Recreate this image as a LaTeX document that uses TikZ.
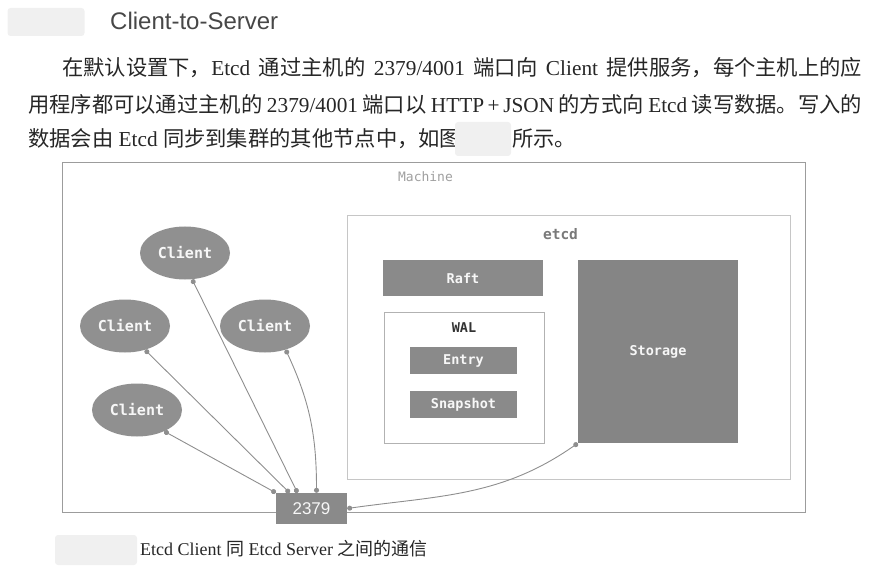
\documentclass[tikz,border=0pt]{standalone}
\usepackage{fontspec}
\setmainfont{Liberation Serif}
\newfontfamily\cjk{Noto Sans CJK SC}
\newfontfamily\codefont{DejaVu Sans Mono}
\newfontfamily\headfont{Liberation Sans}
\usetikzlibrary{arrows.meta,shapes.geometric}
\definecolor{boxgray}{HTML}{8A8A8A}
\definecolor{storegray}{HTML}{858585}
\definecolor{linkgray}{HTML}{8E8E8E}
\definecolor{framegray}{HTML}{9C9C9C}
\definecolor{textgray}{HTML}{262626}
\tikzset{
  block/.style={fill=boxgray, text=white!94!gray, inner sep=0pt,
    font=\codefont\bfseries\fontsize{13.5}{16}\selectfont},
  client/.style={ellipse, fill=boxgray!95!white, text=white!94!gray, inner sep=0pt,
    minimum width=90pt, minimum height=53pt, font=\codefont\bfseries\fontsize{15}{18}\selectfont},
  frame/.style={draw=framegray, line width=0.7pt, inner sep=0pt},
  link/.style={draw=linkgray, line width=0.9pt,
    {Circle[length=5pt,width=5pt,fill=linkgray]}-{Circle[length=5pt,width=5pt,fill=linkgray]}},
  blur/.style={fill=gray!12, draw=none, rounded corners=3pt, inner sep=0pt},
  para/.style={anchor=west, inner sep=0pt, text=textgray, font=\fontsize{21.3}{25}\selectfont},
}
\begin{document}
\begin{tikzpicture}[x=1pt,y=-1pt]
\useasboundingbox (0,0) rectangle (889,572);
% heading
\node[blur, minimum width=77pt, minimum height=28pt] (hblur) at (46,22) {};
\node[anchor=west, inner sep=0pt, text=textgray!85, font=\headfont\fontsize{24}{28}\selectfont] (head) at (110,21) {Client-to-Server};
% paragraph
\node[para] (line1) at (62,68) {\makebox[800pt][s]{{\cjk 在默认设置下，}Etcd {\cjk 通过主机的} 2379/4001 {\cjk 端口向} Client {\cjk 提供服务，每个主机上的应}}};
\node[para] (line2) at (28,104) {\makebox[834pt][s]{{\cjk 用程序都可以通过主机的} 2379/4001 {\cjk 端口以} HTTP\,+\,JSON {\cjk 的方式向} Etcd {\cjk 读写数据。写入的}}};
\node[para] (line3) at (28,139) {{\cjk 数据会由} Etcd {\cjk 同步到集群的其他节点中，如图}};
\node[blur, minimum width=56pt, minimum height=34pt] (fblur) at (483,139) {};
\node[para] (line3b) at (512,139) {\cjk 所示。};
% diagram frames
\node[frame, minimum width=743pt, minimum height=350pt] (machine) at (433.5,337) {};
\node[text=gray!75, font=\codefont\fontsize{13}{15}\selectfont] at ([xshift=-8pt,yshift=-15pt]machine.north) {Machine};
\node[frame, draw=gray!45, minimum width=443pt, minimum height=264pt] (etcd) at (568.5,347) {};
\node[text=gray!95!black, font=\codefont\bfseries\fontsize{14.5}{17}\selectfont] at ([xshift=-8pt,yshift=-19pt]etcd.north) {etcd};
\node[block, minimum width=160pt, minimum height=36pt] (raft) at (463,278) {Raft};
\node[frame, draw=gray!60, minimum width=160pt, minimum height=131pt] (wal) at (464,377.5) {};
\node[text=gray!40!black, font=\codefont\bfseries\fontsize{13.5}{16}\selectfont] at ([yshift=-16pt]wal.north) {WAL};
\node[block, minimum width=107pt, minimum height=27pt] (entry) at (463.5,360.5) {Entry};
\node[block, minimum width=107pt, minimum height=27pt] (snap) at (463.5,404.5) {Snapshot};
\node[block, fill=storegray, minimum width=160pt, minimum height=183pt] (storage) at (658,351.5) {Storage};
% clients and port
\node[client] (c1) at (185,253) {Client};
\node[client] (c2) at (125,326) {Client};
\node[client] (c3) at (265,326) {Client};
\node[client] (c4) at (137,410) {Client};
\node[block, minimum width=71pt, minimum height=31pt, font=\headfont\fontsize{17}{20}\selectfont] (port) at (311.5,508.5) {2379};
% links
\draw[link] (c4.-38) -- (port.north west);
\draw[link] (c2.-50) -- ([xshift=-22pt]port.north);
\draw[link] (c1.-75) -- ([xshift=-14pt]port.north);
\draw[link] (c3.-49) to[out=-65, in=90] ([xshift=5pt]port.north);
\draw[link] (storage.south west) to[out=-145, in=8] (port.east);
% caption
\node[blur, minimum width=82pt, minimum height=30pt] (cblur) at (96,550) {};
\node[anchor=west, inner sep=0pt, text=textgray, font=\fontsize{18}{21}\selectfont] (caption) at (140,549) {Etcd Client {\cjk 同} Etcd Server {\cjk 之间的通信}};
\end{tikzpicture}
\end{document}
